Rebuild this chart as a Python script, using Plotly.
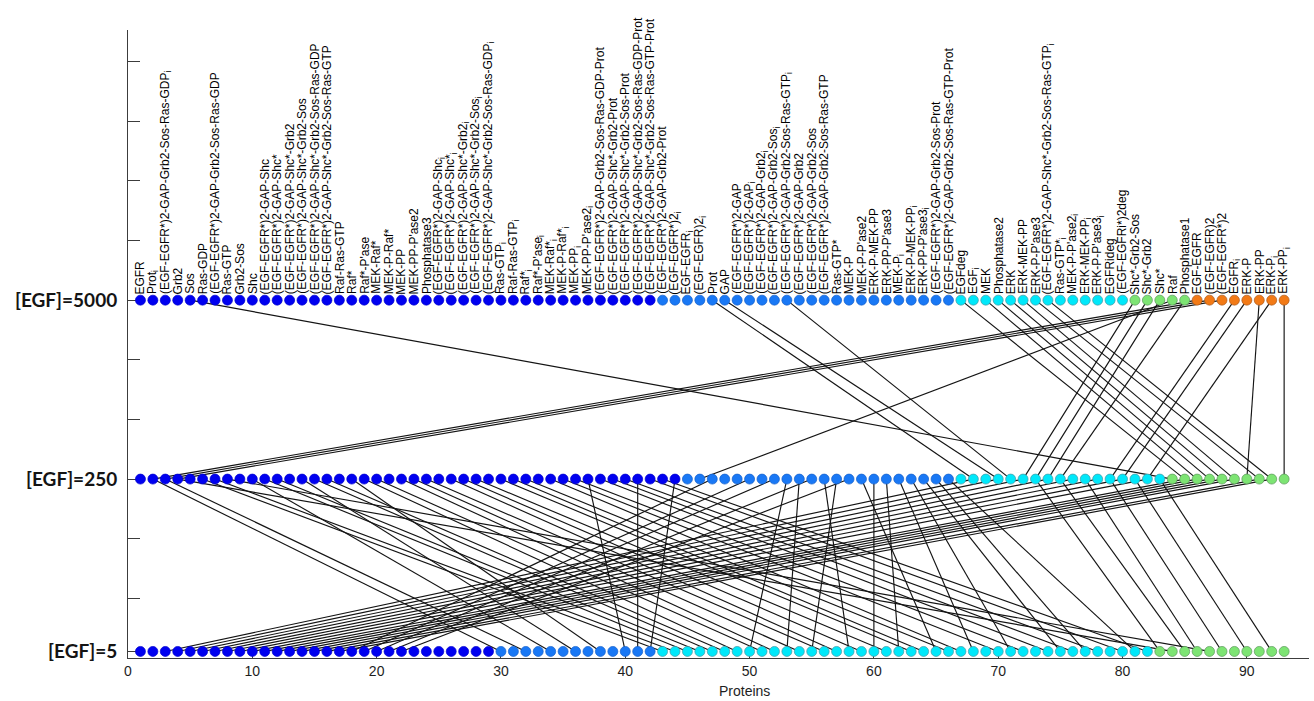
import plotly.graph_objects as go

# Protein names, in the ranking order obtained at [EGF]=5000
labels_5000 = [
    "EGFR", "Prot<sub>i</sub>", "(EGF-EGFR*)2-GAP-Grb2-Sos-Ras-GDP<sub>i</sub>", "Grb2", "Sos",
    "Ras-GDP", "(EGF-EGFR*)2-GAP-Grb2-Sos-Ras-GDP", "Ras-GTP", "Grb2-Sos", "Shc",
    "(EGF-EGFR*)2-GAP-Shc", "(EGF-EGFR*)2-GAP-Shc*", "(EGF-EGFR*)2-GAP-Shc*-Grb2",
    "(EGF-EGFR*)2-GAP-Shc*-Grb2-Sos", "(EGF-EGFR*)2-GAP-Shc*-Grb2-Sos-Ras-GDP",
    "(EGF-EGFR*)2-GAP-Shc*-Grb2-Sos-Ras-GTP", "Raf-Ras-GTP", "Raf*", "Raf*-P'ase", "MEK-Raf*",
    "MEK-P-Raf*", "MEK-PP", "MEK-PP-P'ase2", "Phosphatase3",
    "(EGF-EGFR*)2-GAP-Shc<sub>i</sub>", "(EGF-EGFR*)2-GAP-Shc*<sub>i</sub>",
    "(EGF-EGFR*)2-GAP-Shc*-Grb2<sub>i</sub>", "(EGF-EGFR*)2-GAP-Shc*-Grb2-Sos<sub>i</sub>",
    "(EGF-EGFR*)2-GAP-Shc*-Grb2-Sos-Ras-GDP<sub>i</sub>", "Ras-GTP<sub>i</sub>",
    "Raf-Ras-GTP<sub>i</sub>", "Raf*<sub>i</sub>", "Raf*-P'ase<sub>i</sub>", "MEK-Raf*<sub>i</sub>",
    "MEK-P-Raf*<sub>i</sub>", "MEK-PP<sub>i</sub>", "MEK-PP-P'ase2<sub>i</sub>",
    "(EGF-EGFR*)2-GAP-Grb2-Sos-Ras-GDP-Prot", "(EGF-EGFR*)2-GAP-Shc*-Grb2-Prot",
    "(EGF-EGFR*)2-GAP-Shc*-Grb2-Sos-Prot", "(EGF-EGFR*)2-GAP-Shc*-Grb2-Sos-Ras-GDP-Prot",
    "(EGF-EGFR*)2-GAP-Shc*-Grb2-Sos-Ras-GTP-Prot", "(EGF-EGFR*)2-GAP-Grb2-Prot",
    "(EGF-EGFR*)2<sub>i</sub>", "EGF-EGFR<sub>i</sub>", "(EGF-EGFR)2<sub>i</sub>", "Prot", "GAP",
    "(EGF-EGFR*)2-GAP", "(EGF-EGFR*)2-GAP<sub>i</sub>", "(EGF-EGFR*)2-GAP-Grb2<sub>i</sub>",
    "(EGF-EGFR*)2-GAP-Grb2-Sos<sub>i</sub>", "(EGF-EGFR*)2-GAP-Grb2-Sos-Ras-GTP<sub>i</sub>",
    "(EGF-EGFR*)2-GAP-Grb2", "(EGF-EGFR*)2-GAP-Grb2-Sos", "(EGF-EGFR*)2-GAP-Grb2-Sos-Ras-GTP",
    "Ras-GTP*", "MEK-P", "MEK-P-P'ase2", "ERK-P-MEK-PP", "ERK-PP-P'ase3", "MEK-P<sub>i</sub>",
    "ERK-P-MEK-PP<sub>i</sub>", "ERK-PP-P'ase3<sub>i</sub>", "(EGF-EGFR*)2-GAP-Grb2-Sos-Prot",
    "(EGF-EGFR*)2-GAP-Grb2-Sos-Ras-GTP-Prot", "EGFdeg", "EGF<sub>i</sub>", "MEK", "Phosphatase2",
    "ERK", "ERK-MEK-PP", "ERK-P-P'ase3", "(EGF-EGFR*)2-GAP-Shc*-Grb2-Sos-Ras-GTP<sub>i</sub>",
    "Ras-GTP*<sub>i</sub>", "MEK-P-P'ase2<sub>i</sub>", "ERK-MEK-PP<sub>i</sub>",
    "ERK-P-P'ase3<sub>i</sub>", "EGFRideg", "(EGF-EGFRi*)2deg", "Shc*-Grb2-Sos", "Shc*-Grb2",
    "Shc*", "Raf", "Phosphatase1", "EGF-EGFR", "(EGF-EGFR)2", "(EGF-EGFR*)2", "EGFR<sub>i</sub>",
    "ERK-P", "ERK-PP", "ERK-P<sub>i</sub>", "ERK-PP<sub>i</sub>",
]

# Ranking at each dose: protein numbers (1-based, numbering of the [EGF]=5000 list) in rank order
order_5000 = list(range(1, 94))
order_250 = [
    1, 86, 87, 88, 2, 3, 4, 6, 7, 8, 9, 10, 11, 12, 13, 14, 15, 16, 17, 18, 19, 20, 21, 22,
    23, 24, 25, 26, 27, 28, 29, 30, 31, 32, 33, 34, 35, 36, 37, 38, 39, 40, 41, 42,
    43, 84, 44, 45, 46, 49, 50, 51, 52, 54, 55, 56, 57, 58, 59, 60, 61, 62, 63, 64, 65, 66,
    68, 47, 75, 48, 53, 81, 82, 83, 85, 76, 77, 78, 89, 90, 79, 92, 80,
    5, 67, 69, 70, 71, 72, 91, 73, 74, 93,
]
order_5 = [
    1, 2, 47, 48, 81, 83, 76, 78, 90, 92, 67, 69, 70, 71, 72, 73, 74, 44, 49, 51,
    55, 58, 7, 11, 15, 19, 23, 27, 31,
    86, 43, 87, 84, 8, 45, 12, 46, 16, 50, 35, 39, 42,
    3, 4, 9, 10, 13, 14, 17, 52, 18, 20, 54, 21, 57, 22, 24, 56, 25, 60,
    26, 61, 28, 29, 59, 30, 32, 62, 68, 33, 63, 34, 75, 36, 64, 37, 65, 38, 53, 40, 66, 41,
    82, 88, 85, 77, 6, 89, 5, 79, 91, 80, 93,
]

# Cluster sizes along each ranking (clusters listed left to right)
clusters_5000 = [("blue", 42), ("azure", 24), ("cyan", 14), ("green", 5), ("orange", 8)]
clusters_250 = [("blue", 44), ("azure", 22), ("cyan", 17), ("green", 10)]
clusters_5 = [("blue", 29), ("azure", 13), ("cyan", 40), ("green", 11)]

row_names = ["[EGF]=5000", "[EGF]=250", "[EGF]=5"]
row_levels = [6.0, 3.0, 0.11]

cluster_colors = {
    "blue": "rgb(0,0,240)",
    "azure": "rgb(25,120,245)",
    "cyan": "rgb(0,232,250)",
    "green": "rgb(125,228,115)",
    "orange": "rgb(242,122,22)",
}
edge_colors = {
    "blue": "rgb(0,0,205)",
    "azure": "rgb(20,95,200)",
    "cyan": "rgb(70,150,160)",
    "green": "rgb(90,150,90)",
    "orange": "rgb(170,90,30)",
}

rows = [
    (order_5000, clusters_5000, row_levels[0]),
    (order_250, clusters_250, row_levels[1]),
    (order_5, clusters_5, row_levels[2]),
]


def row_lookup(order, clusters):
    """Position and cluster name of every protein in one ranking."""
    names = []
    for name, size in clusters:
        names.extend([name] * size)
    pos = {}
    clu = {}
    for rank, prot in enumerate(order, start=1):
        pos[prot] = rank
        clu[prot] = names[rank - 1]
    return pos, clu, names


lookups = [row_lookup(o, c) for o, c, _ in rows]

fig = go.Figure()

# Connect a protein between two doses when it moves to another cluster
lx, ly = [], []
for r in range(len(rows) - 1):
    pos_a, clu_a, _ = lookups[r]
    pos_b, clu_b, _ = lookups[r + 1]
    ya, yb = rows[r][2], rows[r + 1][2]
    for prot in order_5000:
        if clu_a[prot] != clu_b[prot]:
            lx += [pos_a[prot], pos_b[prot], None]
            ly += [ya, yb, None]
fig.add_trace(go.Scatter(x=lx, y=ly, mode="lines",
                         line=dict(color="rgb(20,20,20)", width=1.15),
                         hoverinfo="skip", showlegend=False, cliponaxis=False))

# Dots of each ranking, coloured by cluster
for (order, clusters, level), (pos, clu, names) in zip(rows, lookups):
    for name in dict.fromkeys(names):
        xs = [i + 1 for i, n in enumerate(names) if n == name]
        fig.add_trace(go.Scatter(
            x=xs, y=[level] * len(xs), mode="markers",
            marker=dict(size=10, color=cluster_colors[name],
                        line=dict(color=edge_colors[name], width=0.7)),
            hoverinfo="skip", showlegend=False, cliponaxis=False))

# Protein names above the top ranking
for rank, prot in enumerate(order_5000, start=1):
    fig.add_annotation(x=rank, y=row_levels[0], xref="x", yref="y",
                       text=labels_5000[prot - 1], textangle=-90,
                       xanchor="center", yanchor="bottom", yshift=5,
                       showarrow=False, borderpad=0,
                       font=dict(family="Liberation Sans, Arial", size=12, color="black"))

fig.add_annotation(x=49.6, y=0, xref="x", yref="paper", text="Proteins",
                   showarrow=False, yanchor="middle", yshift=-33,
                   font=dict(family="Liberation Sans, Arial", size=14, color="rgb(30,30,30)"))

ytick_vals = [row_levels[2], 1, 2, row_levels[1], 4, 5, row_levels[0], 7, 8, 9, 10]
ytick_text = ["<b>" + row_names[2] + "</b>", "", "", "<b>" + row_names[1] + "</b>", "", "",
              "<b>" + row_names[0] + "</b>", "", "", "", ""]

fig.update_layout(
    width=1314, height=701,
    margin=dict(l=128, r=5, t=30, b=43),
    plot_bgcolor="white", paper_bgcolor="white",
    xaxis=dict(range=[0, 95], tickvals=list(range(0, 91, 10)), ticks="inside", ticklen=6,
               tickcolor="rgb(60,60,60)", showline=True, linecolor="rgb(60,60,60)",
               linewidth=1, showgrid=False, zeroline=False, layer="below traces",
               tickfont=dict(family="Liberation Sans, Arial", size=14, color="rgb(30,30,30)")),
    yaxis=dict(range=[0, 10.53], tickvals=ytick_vals, ticktext=ytick_text, ticks="inside",
               ticklen=12, tickcolor="rgb(60,60,60)", showline=True,
               linecolor="rgb(60,60,60)", linewidth=1, showgrid=False, zeroline=False,
               layer="below traces", ticklabelstandoff=6,
               tickfont=dict(family="Lato, Carlito, sans-serif", size=19, color="rgb(20,20,20)")),
)

fig.write_html("out.html")
